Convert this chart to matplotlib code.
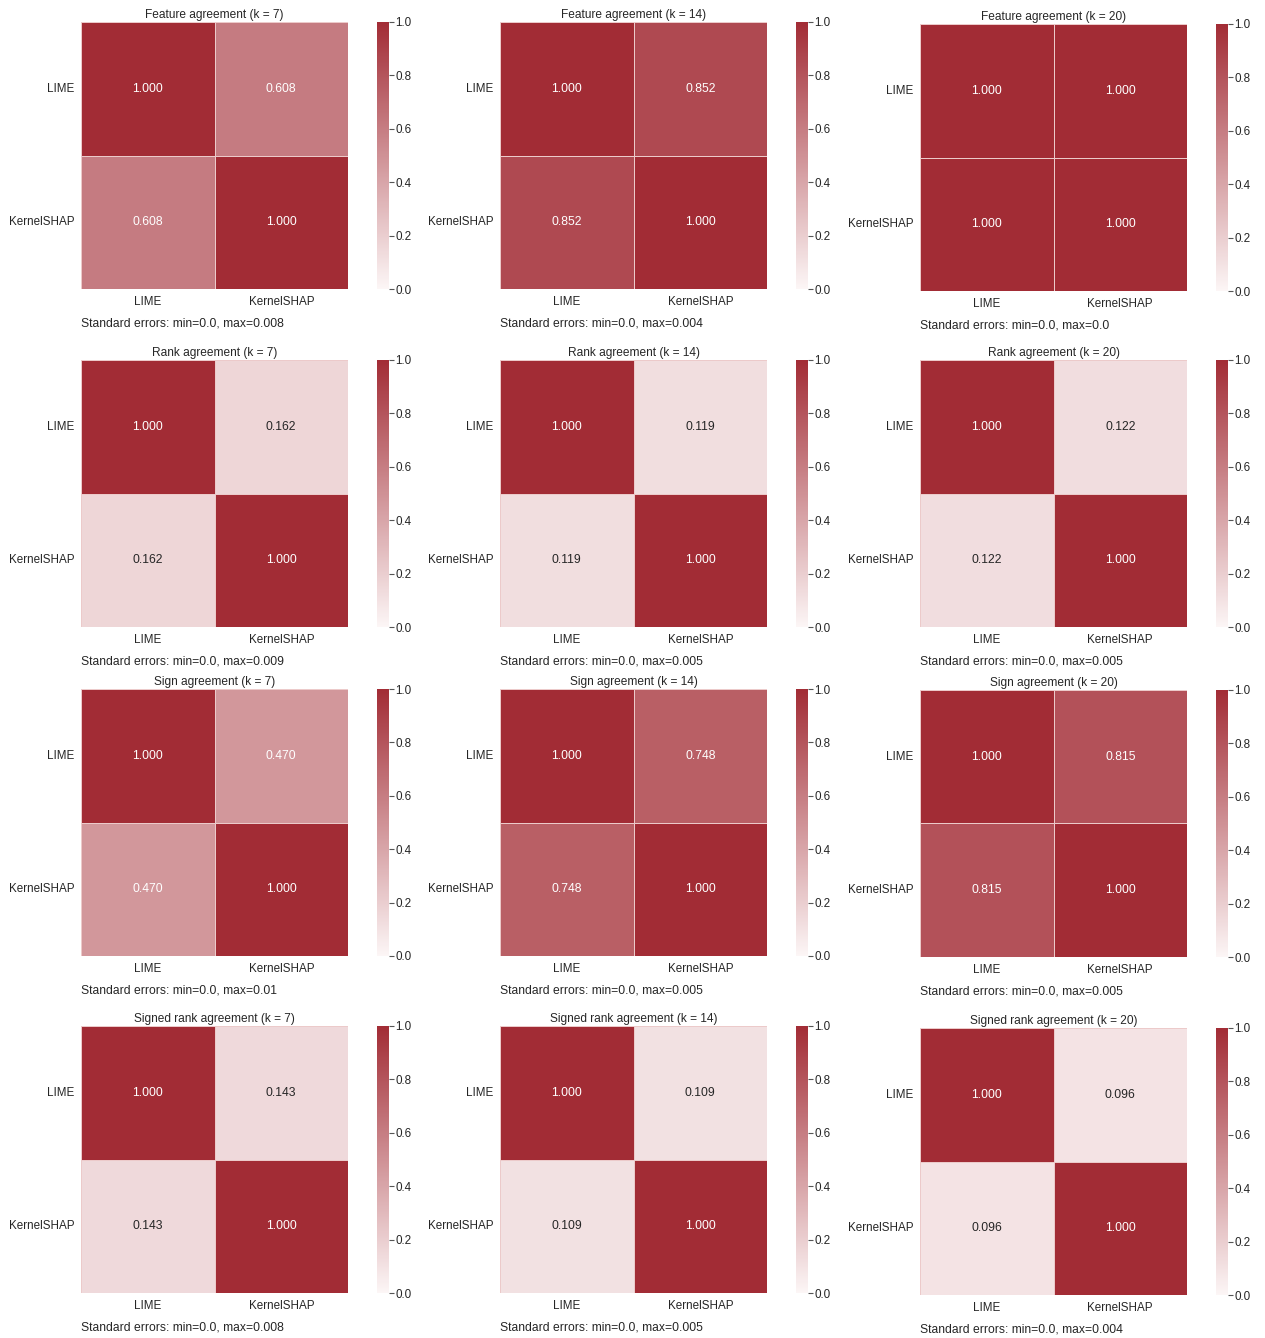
import matplotlib
matplotlib.use("Agg")
import matplotlib.pyplot as plt
import numpy as np
import seaborn as sns
from matplotlib.colors import LinearSegmentedColormap

methods = ["LIME", "KernelSHAP"]
k_values = [7, 14, 20]
metrics = ["Feature agreement", "Rank agreement", "Sign agreement", "Signed rank agreement"]

# LIME vs KernelSHAP agreement for each k
feature_agree = [0.608, 0.852, 1.000]
rank_agree = [0.162, 0.119, 0.122]
sign_agree = [0.470, 0.748, 0.815]
signed_rank_agree = [0.143, 0.109, 0.096]

# max standard error for each k (min is always 0.0)
feature_se = ["0.008", "0.004", "0.0"]
rank_se = ["0.009", "0.005", "0.005"]
sign_se = ["0.01", "0.005", "0.005"]
signed_rank_se = ["0.008", "0.005", "0.004"]

agree = [feature_agree, rank_agree, sign_agree, signed_rank_agree]
ses = [feature_se, rank_se, sign_se, signed_rank_se]

FS = 8.4
plt.rcParams["font.family"] = ["Liberation Sans", "DejaVu Sans"]
plt.rcParams["font.size"] = FS
for key in ["text.color", "axes.labelcolor", "xtick.color", "ytick.color"]:
    plt.rcParams[key] = "#262626"

cmap = LinearSegmentedColormap.from_list("reds", ["#fcf6f6", "#a22c35"])

W, H = 1265, 1338
fig = plt.figure(figsize=(W / 100, H / 100), dpi=100)

col_left = [81, 500, 920]
cbar_left = [377, 796, 1216]
row_top = [22, 360, 689, 1026]
col3_shift = [2, 0, 1, 2]
size = 267


def frac(x, y, w, h):
    return [x / W, 1 - (y + h) / H, w / W, h / H]


for r, metric in enumerate(metrics):
    for c, k in enumerate(k_values):
        top = row_top[r] + (col3_shift[r] if c == 2 else 0)
        ax = fig.add_axes(frac(col_left[c], top, size, size))
        cax = fig.add_axes(frac(cbar_left[c], top, 12, size))
        v = agree[r][c]
        mat = np.array([[1.0, v], [v, 1.0]])
        sns.heatmap(mat, ax=ax, cbar_ax=cax, cmap=cmap, vmin=0, vmax=1,
                    annot=True, fmt=".3f", linewidths=0.5, linecolor="#eccaca",
                    xticklabels=methods, yticklabels=methods,
                    annot_kws={"fontsize": FS + 0.3})
        ax.set_title(f"{metric} (k = {k})", fontsize=FS + 0.2, pad=3)
        ax.tick_params(length=0, pad=5)
        plt.setp(ax.get_yticklabels(), rotation=0)
        ax.text(0, -0.13, f"Standard errors: min=0.0, max={ses[r][c]}",
                transform=ax.transAxes, ha="left", va="center", fontsize=FS + 0.3)
        cax.set_yticks([0, 0.2, 0.4, 0.6, 0.8, 1.0])
        cax.tick_params(length=3.5, width=0.8, color="#555555", pad=1, labelsize=FS)
        for s in cax.spines.values():
            s.set_visible(False)

fig.savefig("out.png", dpi=100)
